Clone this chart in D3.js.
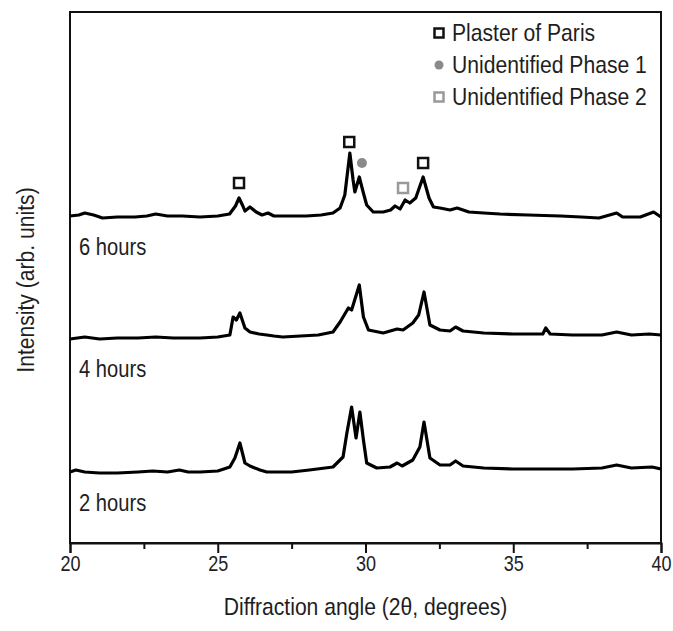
<!DOCTYPE html>
<html>
<head>
<meta charset="utf-8">
<script src="https://cdn.jsdelivr.net/npm/d3@7"></script>
<style>
  body { margin: 0; background: #fff; }
  text { font-family: "Liberation Sans", Arial, sans-serif; fill: #1e1e1e; }
</style>
</head>
<body>
<svg class="graphic" width="673" height="631"></svg>
<script>
// XRD patterns, stacked (arb. units)
const angles6h = [20.0, 20.3, 20.5, 20.8, 21.1, 21.6, 22.2, 22.6, 22.9, 23.3, 23.8, 24.4, 25.0, 25.4, 25.6, 25.72, 25.85, 25.92, 26.09, 26.3, 26.5, 26.7, 26.9, 27.5, 28.0, 28.5, 28.9, 29.14, 29.3, 29.47, 29.58, 29.64, 29.79, 29.92, 30.04, 30.26, 30.6, 30.85, 31.0, 31.17, 31.34, 31.5, 31.7, 31.95, 32.15, 32.3, 32.52, 32.86, 33.1, 33.5, 34.0, 34.55, 35.5, 36.6, 37.3, 37.9, 38.5, 38.7, 39.3, 39.75, 40.0];
const int6h = [327, 328, 330, 328, 325, 326, 326, 327, 329, 327, 327, 326, 327, 329, 337, 345, 337, 332, 336, 331, 328, 330, 327, 327, 327, 328, 330, 335, 348, 390, 363, 351, 366, 351, 338, 331, 331, 333, 337, 334, 343, 340, 345, 366, 345, 336, 335, 333, 335, 331, 330, 329, 328, 327, 326, 325, 330, 326, 326, 331, 326];

const angles4h = [20.0, 20.5, 21.0, 21.6, 22.3, 22.9, 23.5, 24.0, 24.4, 25.0, 25.41, 25.52, 25.63, 25.75, 25.92, 26.09, 26.4, 26.66, 26.9, 27.2, 27.8, 28.4, 28.9, 29.14, 29.42, 29.53, 29.79, 29.93, 30.1, 30.6, 31.07, 31.27, 31.6, 31.8, 31.98, 32.18, 32.52, 32.86, 33.05, 33.3, 34.0, 35.0, 36.0, 36.1, 36.25, 37.0, 38.0, 38.5, 39.0, 39.6, 40.0];
const int4h = [204, 206, 204, 205, 205, 206, 205, 205, 205, 206, 208, 226, 223, 230, 215, 211, 209, 208, 207, 206, 207, 208, 211, 221, 235, 233, 258, 226, 213, 210, 214, 213, 220, 228, 251, 218, 213, 212, 216, 212, 210, 209, 209, 215, 209, 208, 208, 211, 208, 209, 208];

const angles2h = [20.0, 20.2, 20.5, 21.0, 21.6, 22.3, 22.8, 23.3, 23.7, 24.0, 24.4, 25.0, 25.41, 25.58, 25.75, 25.92, 26.09, 26.43, 26.66, 27.5, 28.1, 28.9, 29.24, 29.37, 29.53, 29.68, 29.81, 29.93, 30.04, 30.38, 30.83, 31.07, 31.24, 31.6, 31.84, 31.98, 32.18, 32.52, 32.86, 33.05, 33.3, 34.0, 35.0, 36.0, 37.0, 38.0, 38.5, 39.0, 39.7, 40.0];
const int2h = [71, 73, 71, 70, 70, 71, 72, 71, 73, 71, 71, 72, 76, 85, 100, 80, 77, 73, 71, 71, 73, 76, 86, 110, 136, 105, 131, 103, 80, 75, 76, 80, 77, 83, 96, 121, 85, 78, 78, 82, 77, 75, 74, 74, 74, 75, 78, 75, 76, 74];

const seriesNames = ["6 hours", "4 hours", "2 hours"];
const labelLevels = [296, 174, 40];

// peak markers
const plasterAngles = [25.72, 29.45, 31.95];
const plasterLevels = [360, 401, 380];
const phase1Angles = [29.88];
const phase1Levels = [380];
const phase2Angles = [31.27];
const phase2Levels = [355];

const legendNames = ["Plaster of Paris", "Unidentified Phase 1", "Unidentified Phase 2"];
const xTicks = [20, 25, 30, 35, 40];
const xMinorTicks = [22.5, 27.5, 32.5, 37.5];

const MARGIN = { top: 12, right: 12, bottom: 88, left: 70 };
const W = 673, H = 631;
const width = W - MARGIN.left - MARGIN.right;
const height = H - MARGIN.top - MARGIN.bottom;

const $svg = d3.select('.graphic');
const g = $svg.append('g').attr('transform', `translate(${MARGIN.left},${MARGIN.top})`);

const x = d3.scaleLinear().domain([20, 40]).range([0, width]);
const y = d3.scaleLinear().domain([0, height]).range([height, 0]);

// text in the source is a bit condensed
function squeezed(parent, tx, ty, size, sx, str, anchor, rot) {
    return parent.append('text')
        .attr('transform', `translate(${tx},${ty})` + (rot ? ` rotate(${rot})` : '') + ` scale(${sx},1)`)
        .attr('dy', '0.35em')
        .attr('font-size', size)
        .attr('text-anchor', anchor || 'start')
        .text(str);
}

// frame
g.append('rect')
    .attr('x', 0).attr('y', 0)
    .attr('width', width).attr('height', height)
    .attr('fill', 'none').attr('stroke', '#111').attr('stroke-width', 2);

// bottom axis
g.append('g')
    .attr('transform', `translate(0,${height})`)
    .call(d3.axisBottom(x).tickValues(xTicks).tickSize(10).tickFormat(d3.format('d')))
    .call(a => a.select('.domain').attr('stroke-width', 2).attr('stroke', '#111'))
    .call(a => a.selectAll('.tick line').attr('stroke-width', 2).attr('stroke', '#111'))
    .call(a => a.selectAll('.tick text').attr('font-size', 22).attr('dy', 15)
        .attr('transform', 'scale(0.82,1)')
        .style('font-family', '"Liberation Sans", Arial, sans-serif').attr('fill', '#1e1e1e'));

g.append('g')
    .attr('transform', `translate(0,${height})`)
    .call(d3.axisBottom(x).tickValues(xMinorTicks).tickSize(6).tickFormat(''))
    .call(a => a.select('.domain').remove())
    .call(a => a.selectAll('.tick line').attr('stroke-width', 2).attr('stroke', '#111'));

// traces
const line = d3.line()
    .x(d => x(d[0]))
    .y(d => y(d[1]));

const traces = [
    d3.zip(angles6h, int6h),
    d3.zip(angles4h, int4h),
    d3.zip(angles2h, int2h)
];

traces.forEach(function(t) {
    g.append('path')
        .datum(t)
        .attr('fill', 'none')
        .attr('stroke', '#000')
        .attr('stroke-width', 3.2)
        .attr('stroke-linejoin', 'round')
        .attr('d', line);
});

seriesNames.forEach(function(name, i) {
    squeezed(g, 9, y(labelLevels[i]), 24, 0.84, name);
});

// markers
const sq = 10;
function square(sel, ax, lv, color) {
    sel.selectAll(null)
        .data(d3.zip(ax, lv))
        .join('rect')
        .attr('x', d => x(d[0]) - sq / 2)
        .attr('y', d => y(d[1]) - sq / 2)
        .attr('width', sq).attr('height', sq)
        .attr('fill', '#fff')
        .attr('stroke', color)
        .attr('stroke-width', 2.5);
}
square(g, plasterAngles, plasterLevels, '#111');
square(g, phase2Angles, phase2Levels, '#999');
g.selectAll(null)
    .data(d3.zip(phase1Angles, phase1Levels))
    .join('circle')
    .attr('cx', d => x(d[0]))
    .attr('cy', d => y(d[1]))
    .attr('r', 5)
    .attr('fill', '#8a8a8a');

// legend
const legend = $svg.append('g').attr('transform', 'translate(439,33)');
legendNames.forEach(function(name, i) {
    const row = legend.append('g').attr('transform', `translate(0,${i * 32})`);
    if (i === 1) {
        row.append('circle').attr('r', 4.5).attr('fill', '#8a8a8a');
    } else {
        row.append('rect')
            .attr('x', -4.5).attr('y', -4.5).attr('width', 9).attr('height', 9)
            .attr('fill', '#fff')
            .attr('stroke', i === 0 ? '#111' : '#999')
            .attr('stroke-width', 2.5);
    }
    squeezed(row, 13, 0, 24, 0.88, name);
});

// axis titles
squeezed($svg, MARGIN.left + width / 2, 607, 24, 0.88, 'Diffraction angle (2θ, degrees)', 'middle');
squeezed($svg, 26, 280, 24, 0.88, 'Intensity (arb. units)', 'middle', -90);
</script>
</body>
</html>
